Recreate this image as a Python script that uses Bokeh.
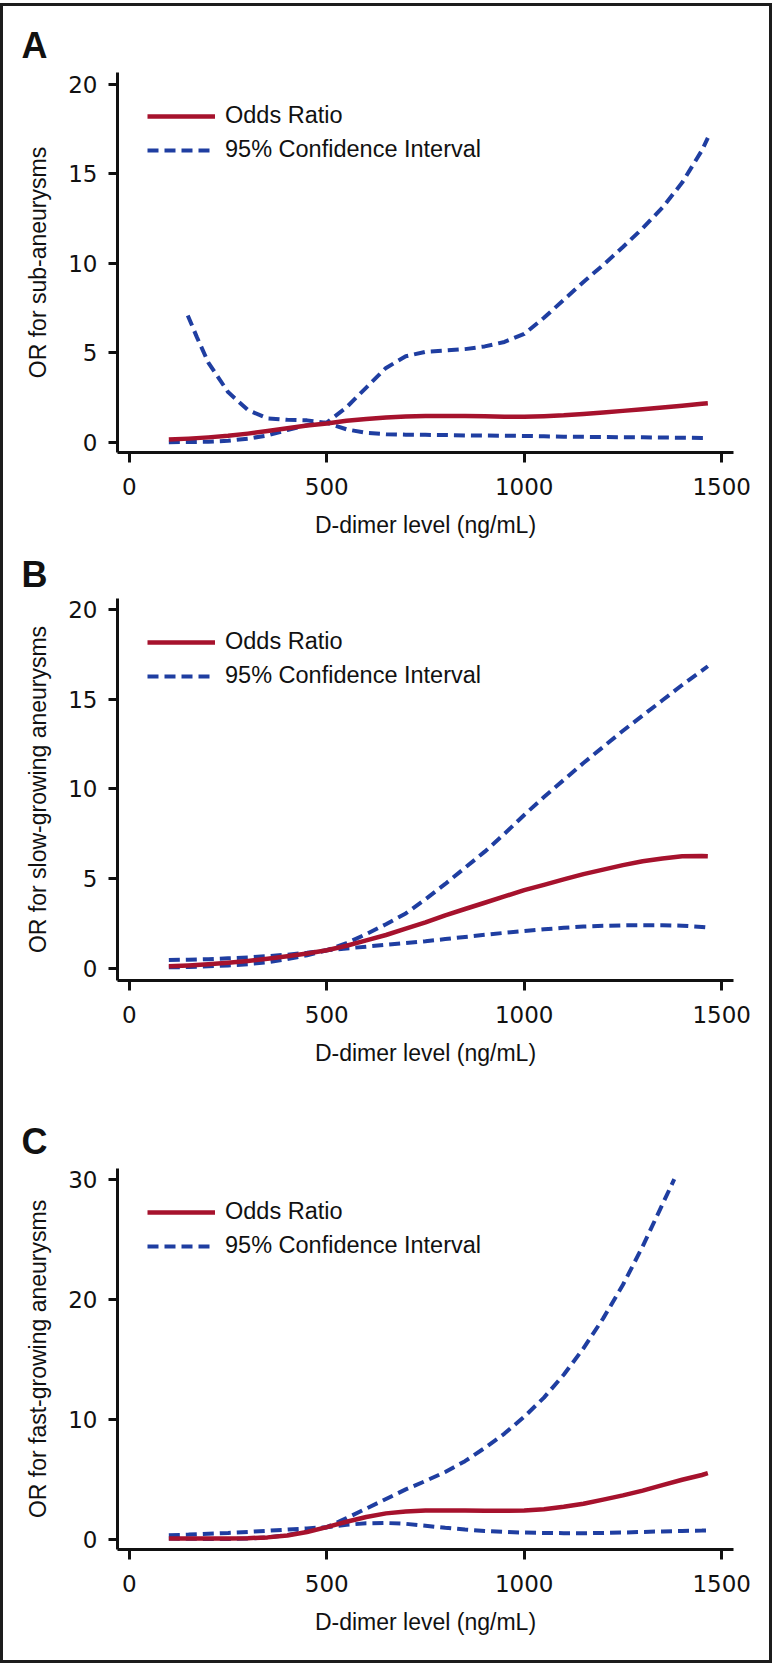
from bokeh.plotting import figure
from bokeh.models import Range1d, FixedTicker, Legend, LegendItem
from bokeh.layouts import column
from bokeh.embed import file_html
from bokeh.resources import INLINE

# ---------------- data ----------------
x_ticks = [0, 500, 1000, 1500]
y_ticks_ab = [0, 5, 10, 15, 20]
y_ticks_c = [0, 10, 20, 30]

dd = [100, 150, 200, 250, 300, 350, 400, 450, 500, 550, 600, 650, 700, 750, 800,
      850, 900, 950, 1000, 1050, 1100, 1150, 1200, 1250, 1300, 1350, 1400, 1450, 1465]

# Panel A: sub-aneurysms
or_a = [0.15, 0.20, 0.27, 0.36, 0.48, 0.62, 0.78, 0.93, 1.05, 1.20, 1.30, 1.38, 1.43, 1.46, 1.47,
        1.47, 1.45, 1.42, 1.42, 1.45, 1.50, 1.58, 1.66, 1.75, 1.84, 1.94, 2.04, 2.15, 2.18]
ci_a_rise = [0.00, 0.01, 0.03, 0.08, 0.20, 0.38, 0.68, 0.95, 1.10, 1.95, 3.05, 4.15, 4.80, 5.05, 5.12,
             5.20, 5.35, 5.60, 6.05, 6.95, 7.95, 8.95, 9.90, 10.90, 11.95, 13.10, 14.50, 16.30, 17.00]
dd_a_fall = [148, 171, 200, 250, 300, 350, 400, 450, 500, 550, 600, 650, 700, 750, 800,
             850, 900, 950, 1000, 1050, 1100, 1150, 1200, 1250, 1300, 1350, 1400, 1450, 1465]
ci_a_fall = [7.08, 5.87, 4.45, 2.80, 1.80, 1.33, 1.25, 1.22, 1.08, 0.72, 0.52, 0.45, 0.42, 0.41, 0.40,
             0.38, 0.37, 0.36, 0.35, 0.33, 0.31, 0.30, 0.29, 0.28, 0.27, 0.26, 0.25, 0.24, 0.24]

# Panel B: slow-growing aneurysms
or_b = [0.10, 0.15, 0.22, 0.30, 0.40, 0.52, 0.66, 0.82, 1.00, 1.25, 1.55, 1.85, 2.20, 2.55, 2.95,
        3.30, 3.65, 4.00, 4.35, 4.65, 4.95, 5.25, 5.50, 5.75, 5.97, 6.12, 6.24, 6.26, 6.25]
ci_b_rise = [0.05, 0.06, 0.10, 0.15, 0.22, 0.33, 0.50, 0.72, 1.00, 1.40, 1.90, 2.45, 3.05, 3.85, 4.70,
             5.60, 6.50, 7.50, 8.55, 9.55, 10.50, 11.45, 12.35, 13.25, 14.10, 14.95, 15.80, 16.60, 16.85]
ci_b_fall = [0.45, 0.47, 0.50, 0.55, 0.60, 0.67, 0.75, 0.86, 1.00, 1.10, 1.20, 1.30, 1.40, 1.50, 1.62,
             1.74, 1.86, 1.97, 2.07, 2.17, 2.25, 2.32, 2.36, 2.39, 2.40, 2.40, 2.37, 2.30, 2.27]

# Panel C: fast-growing aneurysms
or_c = [0.05, 0.05, 0.05, 0.05, 0.08, 0.15, 0.30, 0.60, 1.00, 1.45, 1.85, 2.15, 2.30, 2.38, 2.40,
        2.40, 2.37, 2.36, 2.40, 2.50, 2.70, 2.95, 3.30, 3.65, 4.05, 4.50, 4.95, 5.35, 5.50]
dd_c_rise = [100, 150, 200, 250, 300, 350, 400, 450, 500, 550, 600, 650, 700, 750, 800,
             850, 900, 950, 1000, 1050, 1100, 1150, 1200, 1250, 1300, 1350, 1380]
ci_c_rise = [0.05, 0.03, 0.02, 0.02, 0.05, 0.15, 0.35, 0.65, 1.00, 1.75, 2.55, 3.35, 4.15, 4.85, 5.60,
             6.50, 7.60, 8.80, 10.20, 11.80, 13.70, 15.90, 18.40, 21.20, 24.40, 27.90, 30.00]
ci_c_fall = [0.33, 0.38, 0.45, 0.52, 0.60, 0.70, 0.80, 0.90, 1.00, 1.20, 1.32, 1.35, 1.28, 1.12, 0.95,
             0.80, 0.68, 0.60, 0.55, 0.52, 0.50, 0.50, 0.52, 0.55, 0.60, 0.65, 0.69, 0.72, 0.73]

RED = "#A6122D"
BLUE = "#1F3EA1"
INK = "#111111"


def make_panel(letter, ylabel, yrange, yticks, frame_h, b_top, b_bottom,
               x_or, y_or, x_r, y_r, x_f, y_f, letter_standoff):
    p = figure(frame_width=616, frame_height=frame_h,
               x_range=Range1d(-30, 1530), y_range=Range1d(*yrange),
               output_backend="svg", toolbar_location=None,
               min_border_left=114, min_border_right=36,
               min_border_top=b_top, min_border_bottom=b_bottom)
    p.outline_line_color = None
    p.grid.visible = False
    p.background_fill_color = "white"
    p.border_fill_color = "white"

    p.title.text = letter
    p.title.text_font = "Liberation Sans"
    p.title.text_font_size = "36px"
    p.title.text_font_style = "bold"
    p.title.text_color = INK
    p.title.align = "left"
    p.title.offset = -96
    p.title.standoff = letter_standoff
    p.title.vertical_align = "bottom"

    for ax in (p.xaxis[0], p.yaxis[0]):
        ax.axis_line_width = 3
        ax.axis_line_color = INK
        ax.major_tick_line_width = 3
        ax.major_tick_line_color = INK
        ax.major_tick_in = 0
        ax.minor_tick_line_color = None
        ax.major_label_text_font = "DejaVu Sans"
        ax.major_label_text_font_size = "23px"
        ax.major_label_text_color = INK
        ax.axis_label_text_font = "Liberation Sans"
        ax.axis_label_text_font_style = "normal"
        ax.axis_label_text_color = INK

    p.xaxis.axis_label_text_font_size = "23px"
    p.yaxis.axis_label_text_font_size = "23px"
    p.xaxis.ticker = FixedTicker(ticks=x_ticks)
    p.yaxis.ticker = FixedTicker(ticks=yticks)
    p.xaxis.major_tick_out = 10
    p.yaxis.major_tick_out = 9
    p.xaxis.major_label_standoff = 15
    p.yaxis.major_label_standoff = 11
    p.xaxis.axis_label = "D-dimer level (ng/mL)"
    p.yaxis.axis_label = ylabel
    p.xaxis.axis_label_standoff = 14
    p.yaxis.axis_label_standoff = 14

    r_f = p.line(x_f, y_f, line_color=BLUE, line_width=4, line_dash="11 6")
    r_r = p.line(x_r, y_r, line_color=BLUE, line_width=4, line_dash="11 6")
    r_or = p.line(x_or, y_or, line_color=RED, line_width=4.5, line_join="round")

    legend = Legend(items=[LegendItem(label="Odds Ratio", renderers=[r_or]),
                           LegendItem(label="95% Confidence Interval", renderers=[r_r])],
                    location="top_left", margin=30, padding=0,
                    border_line_color=None, background_fill_alpha=0,
                    glyph_width=68, glyph_height=20, label_standoff=10,
                    spacing=7, label_text_font="Liberation Sans",
                    label_text_font_size="23.5px", label_text_color=INK)
    p.add_layout(legend)
    return p


pA = make_panel("A", "OR for sub-aneurysms", (-0.575, 20.65), y_ticks_ab, 380, 66, 95,
                dd, or_a, dd, ci_a_rise, dd_a_fall, ci_a_fall, 13)
pB = make_panel("B", "OR for slow-growing aneurysms", (-0.69, 20.63), y_ticks_ab, 382, 51, 105,
                dd, or_b, dd, ci_b_rise, dd, ci_b_fall, 8)
pC = make_panel("C", "OR for fast-growing aneurysms", (-0.86, 30.89), y_ticks_c, 381, 83, 111,
                dd, or_c, dd_c_rise, ci_c_rise, dd, ci_c_fall, 13)

layout = column(pA, pB, pC, spacing=0,
                styles={"border": "3px solid #1c1c1c", "margin-top": "3px"})

open("out.html", "w").write(file_html(layout, INLINE))
